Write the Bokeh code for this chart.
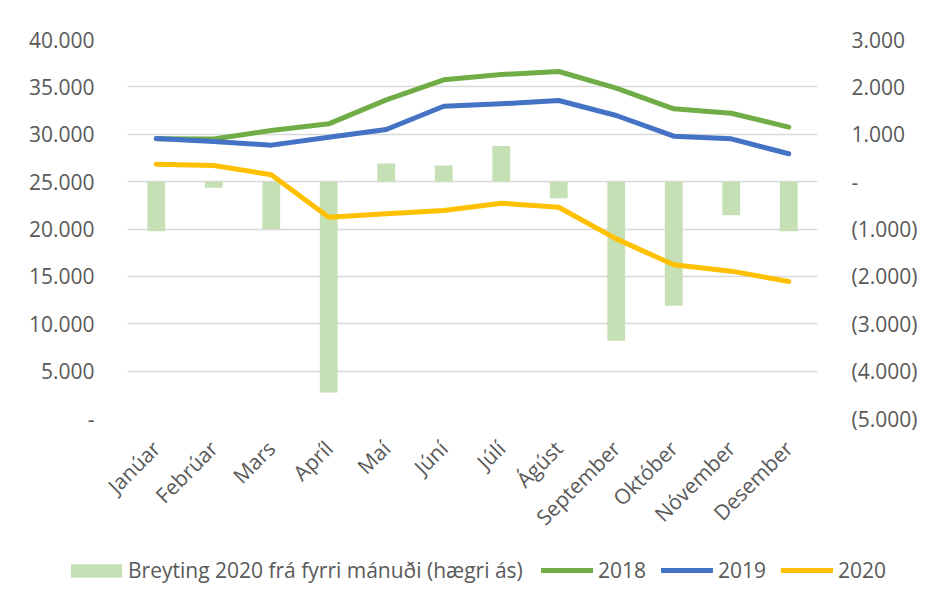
import math
from bokeh.plotting import figure
from bokeh.layouts import column
from bokeh.models import Range1d, LinearAxis, FixedTicker, Legend, LegendItem, ColumnDataSource
from bokeh.embed import file_html
from bokeh.resources import INLINE

months = ["Janúar", "Febrúar", "Mars", "Apríl", "Maí", "Júní", "Júlí", "Ágúst",
          "September", "Október", "Nóvember", "Desember"]
y2018 = [29520, 29500, 30400, 31100, 33630, 35740, 36300, 36620, 34860, 32680, 32220, 30750]
y2019 = [29550, 29230, 28850, 29690, 30500, 32960, 33210, 33560, 31980, 29800, 29520, 27940]
y2020 = [26840, 26700, 25720, 21250, 21600, 21950, 22720, 22300, 18960, 16220, 15550, 14460]
change2020 = [-1050, -130, -1000, -4450, 380, 340, 750, -350, -3360, -2620, -710, -1050]

left_ticks = [0, 5000, 10000, 15000, 20000, 25000, 30000, 35000, 40000]
right_ticks = [-5000, -4000, -3000, -2000, -1000, 0, 1000, 2000, 3000]
legend_labels = ["Breyting 2020 frá fyrri mánuði (hægri ás)", "2018", "2019", "2020"]

def fmt(v):
    if v == 0:
        return "-"
    s = f"{abs(v):,}".replace(",", ".")
    return f"({s})" if v < 0 else s

src = ColumnDataSource(dict(m=months, a=y2018, b=y2019, c=y2020, d=change2020))

FONT = "Open Sans"
GREY = "#595959"
BAR = "#c5e0b4"
COLS = ["#70ad47", "#4472c4", "#ffc000"]

def draw(fig, visible=True):
    r = [fig.vbar(x="m", top="d", bottom=0, width=0.31, source=src, y_range_name="right",
                  fill_color=BAR, line_color=None, visible=visible)]
    for col, c in zip(["a", "b", "c"], COLS):
        r.append(fig.line("m", col, source=src, line_color=c, line_width=5,
                          line_join="round", line_cap="round", visible=visible))
    return r

p = figure(width=920, height=548, x_range=months, y_range=Range1d(0, 40000),
           output_backend="svg", toolbar_location=None,
           min_border_left=127, min_border_right=93, min_border_top=39, min_border_bottom=130)
p.extra_y_ranges = {"right": Range1d(-5000, 3000)}
p.outline_line_color = None
p.border_fill_color = "white"
p.frame_align = False
draw(p)

p.xgrid.grid_line_color = None
p.ygrid.ticker = FixedTicker(ticks=left_ticks)
p.ygrid.grid_line_color = "#d9d9d9"
p.ygrid.grid_line_width = 1.5

ax = p.yaxis[0]
ax.ticker = FixedTicker(ticks=left_ticks)
ax.major_label_overrides = {t: fmt(t) for t in left_ticks}

rax = LinearAxis(y_range_name="right", ticker=FixedTicker(ticks=right_ticks))
rax.major_label_overrides = {t: fmt(t) for t in right_ticks}
p.add_layout(rax, "right")

for a in [ax, rax, p.xaxis[0]]:
    a.axis_line_color = None
    a.major_tick_line_color = None
    a.minor_tick_line_color = None
    a.major_label_text_font = FONT
    a.major_label_text_font_size = "21px"
    a.major_label_text_color = GREY
ax.major_label_standoff = 27
rax.major_label_standoff = 28
p.xaxis.major_label_orientation = math.pi / 4
p.xaxis.major_label_standoff = 20

# legend strip below the chart
q = figure(width=920, height=44, x_range=months, y_range=Range1d(0, 1),
           output_backend="svg", toolbar_location=None, min_border=0)
q.extra_y_ranges = {"right": Range1d(-5000, 3000)}
q.outline_line_color = None
q.frame_align = False
q.axis.visible = False
q.grid.visible = False
lr = draw(q, visible=False)

def make_legend(items, loc, gw, gh, standoff):
    lg = Legend(items=items, orientation="horizontal", location=loc)
    lg.label_text_font = FONT
    lg.label_text_font_size = "21px"
    lg.label_text_color = GREY
    lg.glyph_width = gw
    lg.glyph_height = gh
    lg.label_standoff = standoff
    lg.spacing = 15
    lg.padding = 0
    lg.margin = 0
    lg.border_line_color = None
    lg.background_fill_alpha = 0
    q.add_layout(lg, "center")

items = [LegendItem(label=t, renderers=[r]) for t, r in zip(legend_labels, lr)]
make_legend(items[:1], (64, 8), 64, 17, 0)
make_legend(items[1:], (541, 8), 52, 14, 5)

layout = column(p, q, spacing=0)
open("out.html", "w").write(file_html(layout, INLINE))
